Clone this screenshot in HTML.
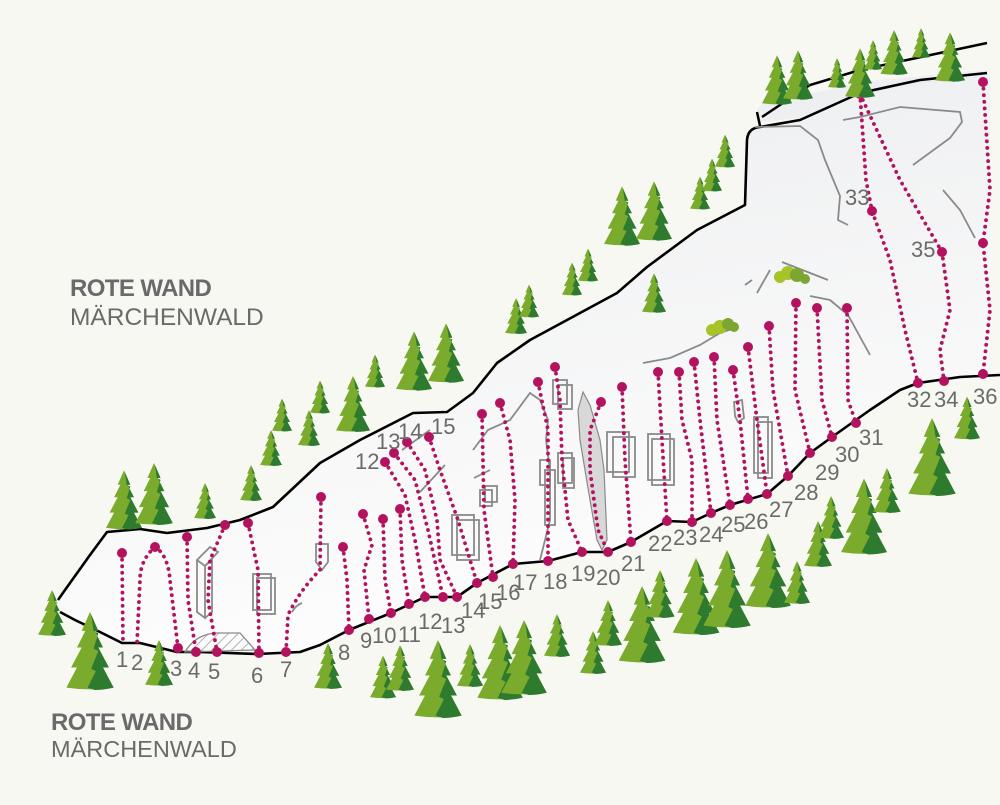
<!DOCTYPE html>
<html><head><meta charset="utf-8"><style>
html,body{margin:0;padding:0;background:#f8f8f3;}
svg{display:block;}
.lb{font-family:"Liberation Sans",sans-serif;fill:#6a6a6a;font-size:22px;}
.rt{fill:none;stroke:#b3125e;stroke-width:3.8;stroke-dasharray:0.1 6.5;stroke-linecap:round;}
.g{fill:none;stroke:#8a8a8a;stroke-width:1.8;}
</style></head><body>
<svg width="1000" height="805" viewBox="0 0 1000 805" xmlns="http://www.w3.org/2000/svg">
<defs>
<linearGradient id="rk" x1="0" y1="0" x2="0.3" y2="1"><stop offset="0" stop-color="#ebecee"/><stop offset="1" stop-color="#fdfdfd"/></linearGradient>
<symbol id="t" viewBox="0 0 40 66">
<path d="M20,0 L13,16 L16,16 L9,30 L13,30 L4,47 L9,47 L0,64 Q20,67 40,64 L31,47 L36,47 L27,30 L31,30 L24,16 L27,16 Z" fill="#7aab2c"/>
<path d="M21,2 L27,16 L24,16 L31,30 L27,30 L36,47 L31,47 L40,64 Q32,66 24,66 L18,64 L25,50 L21,48 L27,33 L23,31 L27,18 L23,16 Z" fill="#2e7a2e"/>
</symbol>
<pattern id="hat" width="7" height="7" patternUnits="userSpaceOnUse" patternTransform="rotate(45)"><line x1="0" y1="0" x2="0" y2="7" stroke="#8a8a8a" stroke-width="1.3"/></pattern>
</defs>
<rect width="1000" height="805" fill="#f8f8f3"/>

<path d="M58,600 L65,590 L90,555 L107,532 L140,529 L167,533 L207,528 L240,520 L273,507 L320,463 L360,440 L413,413 L447,412 L473,393 L497,363 L530,340 L580,313 L617,293 L647,267 L697,230 L745,205 L747,140 L750,128 L800,120 L860,93 L920,80 L975,75 L990,75 L990,374 L960,377 L918,383 L900,390 L870,410 L832,437 L810,453 L788,476 L767,494 L730,505 L711,513 L692,522 L667,521 L631,542 L608,552 L582,552 L548,561 L513,564 L477,583 L457,597 L425,597 L391,613 L349,630 L320,645 L300,652 L257,654 L200,652 L177,652 L140,643 L122,643 L100,632 L75,620 Z" fill="url(#rk)"/>
<path d="M757,110 Q760,100 800,96 L860,82 L987,70 L987,76 L860,93 L800,118 L760,122Z" fill="#eeeff0"/>
<path d="M762,117 L810,85 L860,70 L987,43 M760,126 L757,112" stroke="#000" stroke-width="2.5" fill="none"/>
<path d="M58,600 L65,590 L90,555 L107,532 L140,529 L167,533 L207,528 L240,520 L273,507 L320,463 L360,440 L413,413 L447,412 L473,393 L497,363 L530,340 L580,313 L617,293 L647,267 L697,230 L745,205 L747,140 Q748,128 760,127 L800,120 L860,93 L920,80 L987,73" fill="none" stroke="#000" stroke-width="2.6" stroke-linejoin="round"/>
<path d="M1000,375 L960,377 L918,383 L900,390 L870,410 L832,437 L810,453 L788,476 L767,494 L730,505 L711,513 L692,522 L667,521 L631,542 L608,552 L582,552 L548,561 L513,564 L477,583 L457,597 L425,597 L391,613 L349,630 L320,645 L300,652 L257,654 L200,652 L177,652 L140,643 L122,643 L100,632 L75,620 L60,612" fill="none" stroke="#000" stroke-width="2.6" stroke-linejoin="round"/>

<path d="M185,652 Q195,635 215,633 L240,633 L255,650 Z" fill="url(#hat)" stroke="#8a8a8a" stroke-width="1.3"/>
<g class="g">
<path d="M197,560 L210,547 L218,552 L205,566 Z M197,560 L197,612 L205,618 L205,566 M205,566 L212,560 L212,612 L205,618"/>
<rect x="253" y="574" width="18" height="36"/><rect x="257" y="578" width="18" height="36"/>
<path d="M316,544 L328,544 L328,562 L322,570 L316,562Z"/>
<path d="M292,612 Q296,605 302,603"/>
<rect x="452" y="515" width="22" height="40"/><rect x="457" y="520" width="22" height="40"/>
<rect x="480" y="490" width="12" height="16"/><rect x="485" y="486" width="12" height="16"/>
<path d="M473,450 L488,430 L510,420 L530,393 L540,400 L548,420 L546,440 L550,470 L550,520 L545,540 L540,560"/>
<path d="M420,492 L445,465 M402,450 L430,430 M474,478 L490,470"/>
<rect x="540" y="460" width="10" height="25"/><rect x="545" y="470" width="10" height="55"/>
<rect x="553" y="380" width="14" height="24"/><rect x="558" y="385" width="14" height="24"/>
<rect x="558" y="453" width="14" height="30"/><rect x="563" y="458" width="11" height="30"/>
<rect x="607" y="432" width="22" height="40"/><rect x="613" y="437" width="22" height="40"/>
<rect x="648" y="434" width="22" height="46"/><rect x="652" y="439" width="22" height="46"/>
<rect x="754" y="417" width="14" height="56"/><rect x="758" y="422" width="14" height="56"/>
<path d="M734,402 L742,400 L744,418 L738,422 L735,416Z"/>
<path d="M643,363 L670,358 L700,345 L720,333 L735,328 M745,285 L752,280 M757,293 L770,270 M782,262 L828,280 M810,296 L830,300 L848,315 L870,355"/>
<path d="M755,127 L800,126 L818,140 L825,160 L840,196 L838,220 L848,225 M843,120 L860,117 L900,107 L960,112 L962,122 L950,138 L913,165 M943,190 L960,210 L975,238"/>
</g>
<path d="M583,392 L590,405 L600,440 L604,470 L607,540 L602,550 L597,540 L590,500 L580,440 L578,410 Z" fill="#d8d8d8" stroke="#8a8a8a" stroke-width="1.2"/>
<g><circle cx="712" cy="330" r="6" fill="#a6c428"/><circle cx="720" cy="327" r="7" fill="#a6c428"/><circle cx="728" cy="324" r="6" fill="#7aa632"/><circle cx="734" cy="327" r="5" fill="#7aa632"/>
<circle cx="780" cy="277" r="6" fill="#a6c428"/><circle cx="788" cy="273" r="7" fill="#a6c428"/><circle cx="797" cy="275" r="7" fill="#7aa632"/><circle cx="805" cy="279" r="5" fill="#7aa632"/></g>

<g class="rt">
<path d="M122,553 L123,643"/>
<path d="M155,547 Q140,560 140,580 L137,643"/>
<path d="M155,547 Q168,555 170,580 L178,648"/>
<path d="M187,537 L188,600 L196,652"/>
<path d="M225,525 L210,560 L208,600 L217,652"/>
<path d="M248,523 L258,570 L259,653"/>
<path d="M321,497 L320,570 Q300,590 288,615 L286,652"/>
<path d="M343,547 L347,580 L349,630"/>
<path d="M363,514 L372,545 L364,570 L369,619"/>
<path d="M383,519 L385,580 L391,613"/>
<path d="M400,509 L402,560 L409,604"/>
<path d="M385,462 L405,495 L415,540 L425,597"/>
<path d="M394,453 L415,480 L428,530 L443,597"/>
<path d="M407,442 L425,470 L437,520 L440,560 L457,597"/>
<path d="M429,437 L440,470 L458,520 L477,583"/>
<path d="M482,414 L484,510 L493,577"/>
<path d="M500,403 L510,440 L515,500 L513,564"/>
<path d="M538,382 L548,430 L548,500 L548,561"/>
<path d="M555,367 L560,400 L562,460 L568,520 L582,552"/>
<path d="M601,402 L590,430 L590,470 L598,530 L608,552"/>
<path d="M622,387 L625,460 L631,542"/>
<path d="M658,372 L662,440 L667,521"/>
<path d="M679,372 L682,420 L692,460 L692,522"/>
<path d="M694,362 L700,420 L711,513"/>
<path d="M714,357 L717,420 L730,505"/>
<path d="M733,370 L740,420 L748,499"/>
<path d="M748,347 L757,420 L767,494"/>
<path d="M769,326 L773,390 L788,476"/>
<path d="M796,303 L795,390 L810,453"/>
<path d="M817,308 L822,400 L832,437"/>
<path d="M847,308 L848,400 L856,423"/>
<path d="M860,94 L866,180 L872,211 L890,260 L905,330 L918,383"/>
<path d="M860,94 L900,180 L942,252 L950,310 L940,350 L944,381"/>
<path d="M983,82 L990,190 L983,243 L990,310 L983,374"/>
</g>
<g fill="#b3125e">
<circle cx="122" cy="553" r="5"/><circle cx="155" cy="547" r="5"/><circle cx="187" cy="537" r="5"/><circle cx="225" cy="525" r="5"/><circle cx="248" cy="523" r="5"/>
<circle cx="321" cy="497" r="5"/><circle cx="343" cy="547" r="5"/><circle cx="363" cy="514" r="5"/><circle cx="383" cy="519" r="5"/><circle cx="400" cy="509" r="5"/>
<circle cx="385" cy="462" r="5"/><circle cx="394" cy="453" r="5"/><circle cx="407" cy="442" r="5"/><circle cx="429" cy="437" r="5"/><circle cx="482" cy="414" r="5"/><circle cx="500" cy="403" r="5"/><circle cx="538" cy="382" r="5"/><circle cx="555" cy="367" r="5"/><circle cx="601" cy="402" r="5"/><circle cx="622" cy="387" r="5"/>
<circle cx="658" cy="372" r="5"/><circle cx="679" cy="372" r="5"/><circle cx="694" cy="362" r="5"/><circle cx="714" cy="357" r="5"/><circle cx="733" cy="370" r="5"/><circle cx="748" cy="347" r="5"/><circle cx="769" cy="326" r="5"/><circle cx="796" cy="303" r="5"/><circle cx="817" cy="308" r="5"/><circle cx="847" cy="308" r="5"/>
<circle cx="860" cy="94" r="5"/><circle cx="872" cy="211" r="5"/><circle cx="942" cy="252" r="5"/><circle cx="983" cy="82" r="5"/><circle cx="983" cy="243" r="5"/>
<circle cx="178" cy="648" r="5"/><circle cx="196" cy="652" r="5"/><circle cx="217" cy="652" r="5"/><circle cx="259" cy="653" r="5"/><circle cx="286" cy="652" r="5"/>
<circle cx="349" cy="630" r="5"/><circle cx="369" cy="619" r="5"/><circle cx="391" cy="613" r="5"/><circle cx="409" cy="604" r="5"/><circle cx="425" cy="597" r="5"/><circle cx="443" cy="597" r="5"/><circle cx="457" cy="597" r="5"/><circle cx="477" cy="583" r="5"/><circle cx="493" cy="577" r="5"/><circle cx="513" cy="564" r="5"/><circle cx="548" cy="561" r="5"/><circle cx="582" cy="552" r="5"/><circle cx="608" cy="552" r="5"/><circle cx="631" cy="542" r="5"/>
<circle cx="667" cy="521" r="5"/><circle cx="692" cy="522" r="5"/><circle cx="711" cy="513" r="5"/><circle cx="730" cy="505" r="5"/><circle cx="748" cy="499" r="5"/><circle cx="767" cy="494" r="5"/><circle cx="788" cy="476" r="5"/><circle cx="810" cy="453" r="5"/><circle cx="832" cy="437" r="5"/><circle cx="856" cy="423" r="5"/><circle cx="918" cy="383" r="5"/><circle cx="944" cy="381" r="5"/><circle cx="983" cy="374" r="5"/>
</g>

<g>
<use href="#t" x="38" y="590" width="28" height="46"/>
<use href="#t" x="66" y="612" width="48" height="78"/>
<use href="#t" x="106" y="470" width="36" height="60"/>
<use href="#t" x="135" y="463" width="38" height="62"/>
<use href="#t" x="194" y="483" width="22" height="36"/>
<use href="#t" x="240" y="465" width="22" height="36"/>
<use href="#t" x="145" y="640" width="28" height="46"/>
<use href="#t" x="260" y="430" width="22" height="36"/>
<use href="#t" x="272" y="398" width="20" height="34"/>
<use href="#t" x="298" y="410" width="22" height="36"/>
<use href="#t" x="310" y="380" width="20" height="34"/>
<use href="#t" x="336" y="375" width="34" height="58"/>
<use href="#t" x="365" y="354" width="20" height="34"/>
<use href="#t" x="396" y="330" width="36" height="62"/>
<use href="#t" x="428" y="322" width="36" height="62"/>
<use href="#t" x="505" y="298" width="22" height="36"/>
<use href="#t" x="519" y="284" width="20" height="34"/>
<use href="#t" x="562" y="262" width="20" height="34"/>
<use href="#t" x="578" y="248" width="20" height="34"/>
<use href="#t" x="604" y="186" width="36" height="60"/>
<use href="#t" x="636" y="180" width="36" height="62"/>
<use href="#t" x="642" y="273" width="24" height="40"/>
<use href="#t" x="690" y="176" width="20" height="34"/>
<use href="#t" x="702" y="158" width="20" height="34"/>
<use href="#t" x="715" y="134" width="20" height="34"/>
<use href="#t" x="762" y="55" width="30" height="50"/>
<use href="#t" x="783" y="50" width="30" height="50"/>
<use href="#t" x="828" y="58" width="18" height="30"/>
<use href="#t" x="845" y="48" width="30" height="50"/>
<use href="#t" x="864" y="40" width="18" height="30"/>
<use href="#t" x="880" y="30" width="28" height="45"/>
<use href="#t" x="912" y="28" width="18" height="30"/>
<use href="#t" x="935" y="32" width="30" height="50"/>
<use href="#t" x="314" y="643" width="28" height="46"/>
<use href="#t" x="370" y="655" width="26" height="44"/>
<use href="#t" x="386" y="645" width="28" height="46"/>
<use href="#t" x="414" y="640" width="48" height="78"/>
<use href="#t" x="457" y="643" width="26" height="45"/>
<use href="#t" x="477" y="625" width="46" height="75"/>
<use href="#t" x="501" y="620" width="46" height="75"/>
<use href="#t" x="544" y="613" width="26" height="45"/>
<use href="#t" x="580" y="630" width="26" height="45"/>
<use href="#t" x="594" y="600" width="28" height="46"/>
<use href="#t" x="618" y="586" width="48" height="77"/>
<use href="#t" x="645" y="570" width="30" height="48"/>
<use href="#t" x="672" y="558" width="48" height="77"/>
<use href="#t" x="703" y="550" width="48" height="78"/>
<use href="#t" x="745" y="533" width="46" height="75"/>
<use href="#t" x="784" y="560" width="26" height="45"/>
<use href="#t" x="804" y="521" width="28" height="46"/>
<use href="#t" x="818" y="495" width="26" height="45"/>
<use href="#t" x="841" y="478" width="46" height="77"/>
<use href="#t" x="873" y="468" width="28" height="45"/>
<use href="#t" x="908" y="418" width="48" height="78"/>
<use href="#t" x="954" y="396" width="26" height="44"/>
</g>

<g class="lb">
<text x="116" y="667">1</text><text x="131" y="670">2</text><text x="170" y="676">3</text><text x="188" y="678">4</text><text x="208" y="679">5</text>
<text x="251" y="683">6</text><text x="280" y="677">7</text><text x="338" y="660">8</text><text x="360" y="648">9</text><text x="372" y="643">10</text><text x="398" y="642">11</text>
<text x="418" y="629">12</text><text x="441" y="633">13</text><text x="461" y="618">14</text><text x="478" y="609">15</text><text x="496" y="600">16</text><text x="513" y="590">17</text>
<text x="543" y="589">18</text><text x="571" y="581">19</text><text x="596" y="585">20</text><text x="621" y="571">21</text><text x="648" y="551">22</text><text x="673" y="545">23</text><text x="699" y="542">24</text>
<text x="721" y="532">25</text><text x="744" y="529">26</text><text x="769" y="517">27</text><text x="794" y="500">28</text><text x="815" y="480">29</text><text x="835" y="462">30</text><text x="859" y="445">31</text>
<text x="907" y="407">32</text><text x="934" y="407">34</text><text x="973" y="404">36</text>
<text x="355" y="469">12</text><text x="376" y="449">13</text><text x="398" y="439">14</text><text x="431" y="434">15</text>
<text x="845" y="205">33</text><text x="911" y="257">35</text>
</g>
<g font-family="Liberation Sans, sans-serif" fill="#6a6a6a">
<text x="70" y="296" font-size="24" font-weight="bold" letter-spacing="-0.6">ROTE WAND</text>
<text x="70" y="325" font-size="24.5">MÄRCHENWALD</text>
<text x="51" y="730" font-size="24" font-weight="bold" letter-spacing="-0.6">ROTE WAND</text>
<text x="51" y="757" font-size="23.5">MÄRCHENWALD</text>
</g>
</svg>
</body></html>
